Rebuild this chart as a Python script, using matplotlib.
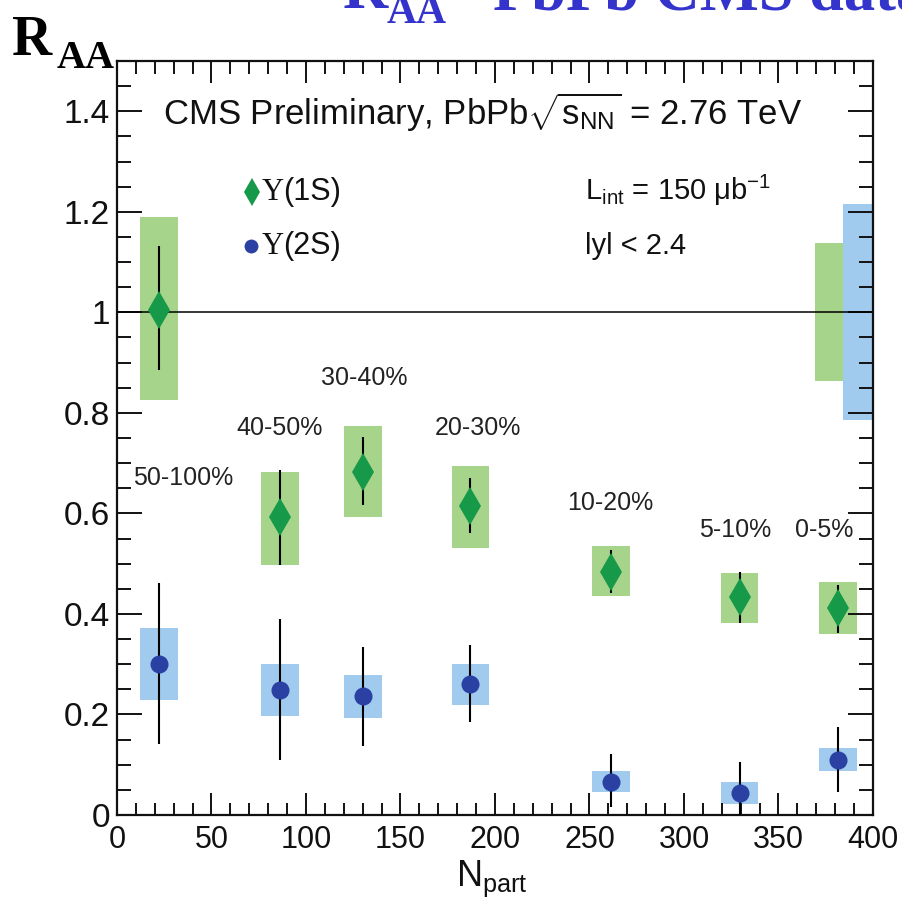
import matplotlib
matplotlib.use("Agg")
import matplotlib.pyplot as plt
from matplotlib.ticker import MultipleLocator, FixedLocator, FixedFormatter

plt.rcParams['mathtext.fontset'] = 'custom'
plt.rcParams['mathtext.rm'] = 'Liberation Sans'
plt.rcParams['mathtext.it'] = 'Liberation Sans:italic'
plt.rcParams['mathtext.bf'] = 'Liberation Sans:bold'

# ---------------- data ----------------
centrality = ["50-100%", "40-50%", "30-40%", "20-30%", "10-20%", "5-10%", "0-5%"]
npart = [22.1, 86.3, 130.1, 187.0, 261.4, 329.4, 381.3]

# Upsilon(1S)
raa_1s = [1.005, 0.593, 0.683, 0.615, 0.484, 0.433, 0.411]
stat_up_1s = [0.127, 0.094, 0.069, 0.056, 0.043, 0.051, 0.047]
stat_dn_1s = [0.119, 0.096, 0.066, 0.054, 0.042, 0.051, 0.049]
syst_up_1s = [0.185, 0.090, 0.091, 0.080, 0.051, 0.049, 0.053]
syst_dn_1s = [0.179, 0.096, 0.090, 0.084, 0.048, 0.051, 0.051]

# Upsilon(2S)
raa_2s = [0.300, 0.249, 0.237, 0.260, 0.066, 0.044, 0.110]
stat_up_2s = [0.162, 0.141, 0.097, 0.078, 0.055, 0.061, 0.065]
stat_dn_2s = [0.159, 0.140, 0.100, 0.075, 0.050, 0.044, 0.064]
syst_up_2s = [0.072, 0.051, 0.042, 0.040, 0.022, 0.022, 0.023]
syst_dn_2s = [0.071, 0.052, 0.044, 0.041, 0.020, 0.022, 0.022]

# global uncertainties (around 1)
global_unc_1s = 0.137
global_unc_2s = 0.215

ytick_vals = [0, 0.2, 0.4, 0.6, 0.8, 1.0, 1.2, 1.4]
ytick_labels = ["0", "0.2", "0.4", "0.6", "0.8", "1", "1.2", "1.4"]
xtick_vals = [0, 50, 100, 150, 200, 250, 300, 350, 400]
xtick_labels = ["0", "50", "100", "150", "200", "250", "300", "350", "400"]

# annotation positions (layout)
label_x = [35, 86, 131, 191, 261, 327, 374]
label_y = [0.671, 0.770, 0.870, 0.770, 0.621, 0.567, 0.567]

# ---------------- style ----------------
GREEN_BOX = '#a7d48b'
BLUE_BOX = '#a0cbee'
GREEN_MK = '#17994a'
BLUE_MK = '#2a41a3'
BOX_HALF = 10

W, H = 902, 913
fig = plt.figure(figsize=(W / 100, H / 100), dpi=100)
L, R, T, B = 117, 873, 61, 815
ax = fig.add_axes([L / W, 1 - B / H, (R - L) / W, (B - T) / H])
ax.set_xlim(0, 400)
ax.set_ylim(0, 1.5)

# syst boxes
for x, y, su, sd in zip(npart, raa_1s, syst_up_1s, syst_dn_1s):
    ax.add_patch(plt.Rectangle((x - BOX_HALF, y - sd), 2 * BOX_HALF, su + sd,
                               facecolor=GREEN_BOX, edgecolor='none', zorder=1))
for x, y, su, sd in zip(npart, raa_2s, syst_up_2s, syst_dn_2s):
    ax.add_patch(plt.Rectangle((x - BOX_HALF, y - sd), 2 * BOX_HALF, su + sd,
                               facecolor=BLUE_BOX, edgecolor='none', zorder=1))

# global uncertainty boxes at right edge
ax.add_patch(plt.Rectangle((369.3, 1 - global_unc_1s), 14.8, 2 * global_unc_1s,
                           facecolor=GREEN_BOX, edgecolor='none', zorder=1))
ax.add_patch(plt.Rectangle((384.1, 1 - global_unc_2s), 15.9, 2 * global_unc_2s,
                           facecolor=BLUE_BOX, edgecolor='none', zorder=1))

ax.axhline(1.0, color='black', lw=1.1, zorder=2)

ax.errorbar(npart, raa_1s, yerr=[stat_dn_1s, stat_up_1s], fmt='none',
            ecolor='black', elinewidth=1.5, capsize=0, zorder=3)
ax.errorbar(npart, raa_2s, yerr=[stat_dn_2s, stat_up_2s], fmt='none',
            ecolor='black', elinewidth=1.5, capsize=0, zorder=3)
ax.plot(npart, raa_1s, linestyle='none', marker='d', markersize=19,
        color=GREEN_MK, markeredgewidth=0, zorder=4)
ax.plot(npart, raa_2s, linestyle='none', marker='o', markersize=13,
        color=BLUE_MK, markeredgewidth=0, zorder=4)

# centrality labels
for lab, lx, ly in zip(centrality, label_x, label_y):
    ax.text(lx, ly, lab, ha='center', va='center', fontsize=18,
            family='Liberation Sans', color='#222222')

# ticks
ax.xaxis.set_major_locator(FixedLocator(xtick_vals))
ax.xaxis.set_major_formatter(FixedFormatter(xtick_labels))
ax.xaxis.set_minor_locator(MultipleLocator(10))
ax.yaxis.set_major_locator(FixedLocator(ytick_vals))
ax.yaxis.set_major_formatter(FixedFormatter(ytick_labels))
ax.yaxis.set_minor_locator(MultipleLocator(0.05))
ax.tick_params(which='both', direction='in', top=True, right=True, width=1.4, color='#111111')
ax.tick_params(which='major', axis='x', length=16, pad=7)
ax.tick_params(which='minor', axis='x', length=9)
ax.tick_params(which='major', axis='y', length=18, pad=5)
ax.tick_params(which='minor', axis='y', length=10)
for lab in ax.get_xticklabels():
    lab.set_family('Liberation Sans')
    lab.set_fontsize(22)
    lab.set_color('#111111')
for lab in ax.get_yticklabels():
    lab.set_family('Liberation Sans')
    lab.set_fontsize(24)
    lab.set_color('#111111')
for sp in ax.spines.values():
    sp.set_linewidth(1.6)
    sp.set_color('#111111')


def ax_frac(px, py):
    return (px - L) / (R - L), (B - py) / (B - T)


# header text inside axes
hx, hy = ax_frac(163, 112)
ax.text(hx, hy, r"CMS Preliminary, PbPb$\sqrt{\mathrm{s}_{\mathrm{NN}}}$ = 2.76 TeV",
        transform=ax.transAxes, ha='left', va='center', fontsize=25,
        family='Liberation Sans', color='#111111')

# legend (manual)
for (mx, my, mk, ms, col, txt) in [(252, 192, 'd', 14, GREEN_MK, "(1S)"),
                                   (251, 246, 'o', 10, BLUE_MK, "(2S)")]:
    fx, fy = ax_frac(mx, my)
    ax.plot([fx], [fy], marker=mk, markersize=ms, color=col, markeredgewidth=0,
            transform=ax.transAxes, clip_on=False)
    tx, ty = ax_frac(262, my)
    ax.text(tx, ty, "Υ", transform=ax.transAxes, ha='left', va='center',
            fontsize=22, family='Liberation Serif', color='#111111')
    tx2, _ = ax_frac(283, my)
    ax.text(tx2, ty, txt, transform=ax.transAxes, ha='left', va='center',
            fontsize=22, family='Liberation Sans', color='#111111')

lx, ly = ax_frac(585, 190)
ax.text(lx, ly, r"$\mathregular{L_{int}}$ = 150 μb$\mathregular{^{-1}}$",
        transform=ax.transAxes, ha='left', va='center', fontsize=21,
        family='Liberation Sans', color='#111111')
lx, ly = ax_frac(585, 246)
ax.text(lx, ly, "lyl < 2.4", transform=ax.transAxes, ha='left', va='center',
        fontsize=21, family='Liberation Sans', color='#111111')

# x label
fig.text(492 / W, 1 - 886 / H, r"$\mathregular{N_{part}}$", ha='center', va='baseline',
         fontsize=26, family='Liberation Sans', color='#111111')

# black R_AA label
fig.text(12 / W, 1 - 55 / H, "R", ha='left', va='baseline', fontsize=40,
         family='Liberation Serif', weight='bold', color='black')
fig.text(57 / W, 1 - 68 / H, "AA", ha='left', va='baseline', fontsize=29,
         family='Liberation Serif', weight='bold', color='black')

# blue clipped title at top
BLUE_T = '#3434cc'
fig.text(343 / W, 1 - 8 / H, "R", ha='left', va='baseline', fontsize=45,
         family='Liberation Serif', weight='bold', color=BLUE_T)
fig.text(387 / W, 1 - 23 / H, "AA", ha='left', va='baseline', fontsize=30,
         family='Liberation Serif', weight='bold', color=BLUE_T)
fig.text(493 / W, 1 - 9 / H, "PbPb CMS data", ha='left', va='baseline', fontsize=45,
         family='Liberation Serif', weight='bold', color=BLUE_T)

fig.savefig("out.png", dpi=100)
